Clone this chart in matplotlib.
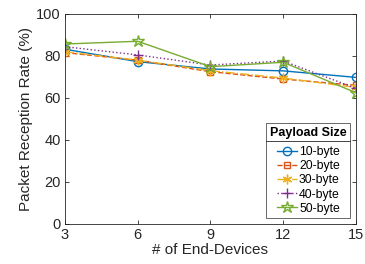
import matplotlib
matplotlib.use("Agg")
import matplotlib.pyplot as plt
from matplotlib.lines import Line2D

plt.rcParams['font.family'] = ['Liberation Sans', 'DejaVu Sans']

devices = [3, 6, 9, 12, 15]
labels = ["10-byte", "20-byte", "30-byte", "40-byte", "50-byte"]
prr_10 = [83.2, 77.3, 73.8, 72.9, 69.8]
prr_20 = [81.6, 78.0, 72.5, 69.0, 66.0]
prr_30 = [82.0, 78.0, 73.0, 69.5, 65.0]
prr_40 = [84.4, 80.5, 75.7, 77.6, 64.6]
prr_50 = [85.7, 87.0, 74.9, 77.0, 62.5]
series = [prr_10, prr_20, prr_30, prr_40, prr_50]

colors = [(0, 0.447, 0.741), (0.85, 0.325, 0.098), (0.929, 0.694, 0.125),
          (0.494, 0.184, 0.556), (0.466, 0.674, 0.188)]
styles = ['-', '--', '-.', ':', '-']
markers = ['o', 's', (6, 2, 0), '+', '*']
msizes = [6, 5, 7, 7, 9]

fig = plt.figure(figsize=(3.65, 2.64), dpi=100)
ax = fig.add_axes([0.178, 0.152, 0.797, 0.795])

for y, lab, c, ls, m, ms in zip(series, labels, colors, styles, markers, msizes):
    ax.plot(devices, y, linestyle=ls, marker=m, color=c, label=lab, lw=1.0,
            markersize=ms, markerfacecolor='none', markeredgewidth=1.0)

ax.set_xlim(3, 15)
ax.set_ylim(0, 100)
ax.set_xticks(devices)
ax.set_yticks([0, 20, 40, 60, 80, 100])
ax.tick_params(direction='in', top=True, right=True, labelsize=10.5, length=3,
               width=0.6, colors='#262626', pad=3)
for s in ax.spines.values():
    s.set_linewidth(0.6)
    s.set_color('#262626')
ax.set_xlabel('# of End-Devices', fontsize=11, color='#262626', labelpad=1)
ax.set_ylabel('Packet Reception Rate (%)', fontsize=11, color='#262626', labelpad=2)

leg = ax.legend(title='Payload Size', loc='lower right', fontsize=8.8,
                title_fontproperties={'weight': 'bold', 'size': 9},
                frameon=True, fancybox=False, edgecolor='#262626',
                handlelength=1.6, handletextpad=0.2, borderpad=0.3,
                labelspacing=0.18, borderaxespad=0.45)
leg.get_frame().set_linewidth(0.6)
leg._legend_box.sep = 5

fig.canvas.draw()
fb = leg.get_frame().get_window_extent()
tb = leg.get_title().get_window_extent()
inv = fig.transFigure.inverted()
ysep = (tb.y0 - 2.5)
(x0, ys), (x1, _) = inv.transform([(fb.x0, ysep), (fb.x1, ysep)])
fig.add_artist(Line2D([x0, x1], [ys, ys], color='#262626', lw=0.6,
                      transform=fig.transFigure))

fig.savefig('out.png', dpi=100)
